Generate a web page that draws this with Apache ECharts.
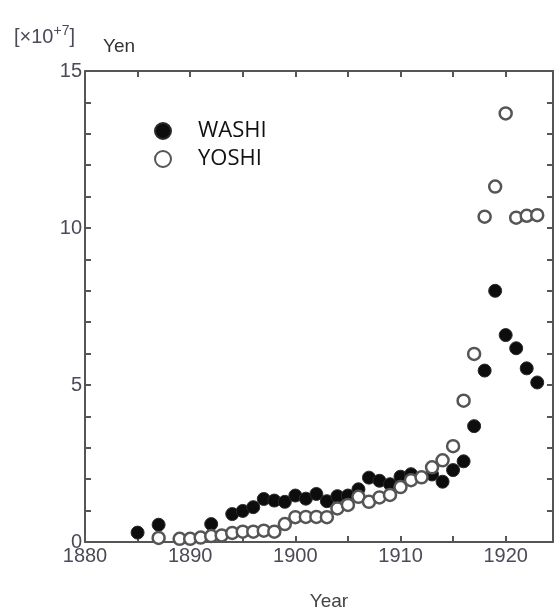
<!DOCTYPE html>
<html>
<head>
<meta charset="utf-8">
<script src="https://cdn.jsdelivr.net/npm/echarts@6/dist/echarts.min.js"></script>
<style>
html,body{margin:0;padding:0;background:#fff;}
#chart{width:560px;height:610px;}
</style>
</head>
<body>
<div id="chart"></div>
<script>
// Data (values in units of 10^7 Yen)
var washiYears = [1885,1887,1892,1894,1895,1896,1897,1898,1899,1900,1901,1902,1903,1904,1905,1906,1907,1908,1909,1910,1911,1913,1914,1915,1916,1917,1918,1919,1920,1921,1922,1923];
var washiValues = [0.30,0.55,0.57,0.89,0.99,1.11,1.37,1.32,1.28,1.48,1.38,1.53,1.30,1.46,1.48,1.68,2.05,1.95,1.84,2.08,2.16,2.15,1.92,2.29,2.57,3.69,5.46,8.00,6.59,6.17,5.53,5.08];
var yoshiYears = [1887,1889,1890,1891,1892,1893,1894,1895,1896,1897,1898,1899,1900,1901,1902,1903,1904,1905,1906,1907,1908,1909,1910,1911,1912,1913,1914,1915,1916,1917,1918,1919,1920,1921,1922,1923];
var yoshiValues = [0.13,0.10,0.10,0.14,0.19,0.21,0.29,0.33,0.33,0.36,0.33,0.57,0.79,0.80,0.80,0.79,1.07,1.18,1.44,1.28,1.42,1.50,1.75,1.97,2.06,2.38,2.60,3.05,4.50,5.99,10.36,11.32,13.65,10.33,10.39,10.41];
var seriesNames = ['WASHI','YOSHI'];
var xTickLabels = [1880,1890,1900,1910,1920];
var yTickLabels = [0,5,10,15];

function pairs(xs, vs){ return xs.map(function(x,i){ return [x, vs[i]]; }); }

var axisColor = '#555';
var labelColor = '#4a4a58';
var baseFont = 'Liberation Sans';

function xAx(pos, showLabel){
  return {
    type:'value', position:pos, min:1880, max:1924.5, interval:5,
    axisLine:{show:true, onZero:false, lineStyle:{color:axisColor, width:2}},
    axisTick:{show:true, inside:true, length:6, lineStyle:{color:axisColor, width:2}},
    axisLabel:{show:showLabel, margin:4, fontSize:20, color:labelColor, fontFamily:baseFont,
      formatter:function(v){ return xTickLabels.indexOf(v) >= 0 ? String(v) : ''; }},
    splitLine:{show:false}
  };
}
function yAx(pos, showLabel){
  return {
    type:'value', position:pos, min:0, max:15, interval:1,
    axisLine:{show:true, onZero:false, lineStyle:{color:axisColor, width:2}},
    axisTick:{show:true, inside:true, length:6, lineStyle:{color:axisColor, width:2}},
    axisLabel:{show:showLabel, margin:3, fontSize:20, color:labelColor, fontFamily:baseFont,
      formatter:function(v){ return yTickLabels.indexOf(v) >= 0 ? String(v) : ''; }},
    splitLine:{show:false}
  };
}

var xBottom = xAx('bottom', true);
xBottom.name = 'Year';
xBottom.nameLocation = 'middle';
xBottom.nameGap = 50;
xBottom.nameTextStyle = {fontSize:19, color:'#444', fontFamily:baseFont, padding:[0,0,0,20]};

var yLeft = yAx('left', true);
yLeft.name = 'Yen';
yLeft.nameLocation = 'end';
yLeft.nameGap = 15;
yLeft.nameTextStyle = {fontSize:19, color:'#333', fontFamily:baseFont, align:'left', padding:[0,0,0,18]};

var chart = echarts.init(document.getElementById('chart'), null, {renderer:'canvas'});
chart.setOption({
  animation:false,
  backgroundColor:'#fff',
  title:{
    text:'[×10{s|+7}]', left:9, top:19,
    textStyle:{fontFamily:baseFont, fontSize:20, fontWeight:'normal', color:labelColor, lineHeight:26,
      rich:{s:{fontSize:14, fontFamily:baseFont, color:labelColor, verticalAlign:'top', lineHeight:26, padding:[0,0,10,0]}}}
  },
  legend:{
    data:seriesNames, orient:'vertical', left:149, top:115,
    icon:'circle', itemWidth:60, itemHeight:16, itemGap:6,
    textStyle:{fontFamily:'Open Sans', fontSize:22, color:'#111', lineHeight:16}
  },
  grid:{left:85, right:7, top:71, bottom:68, containLabel:false, outerBoundsMode:'none'},
  xAxis:[xBottom, xAx('top', false)],
  yAxis:[yLeft, yAx('right', false)],
  series:[
    {name:seriesNames[0], type:'scatter', xAxisIndex:0, yAxisIndex:0, symbol:'circle', symbolSize:13,
     itemStyle:{color:'#0d0d0d', borderColor:'#2a2a2a', borderWidth:1, opacity:1},
     data:pairs(washiYears, washiValues)},
    {name:seriesNames[1], type:'scatter', xAxisIndex:0, yAxisIndex:0, symbol:'circle', symbolSize:12,
     itemStyle:{color:'#fff', borderColor:'#555', borderWidth:2.5, opacity:1},
     data:pairs(yoshiYears, yoshiValues)}
  ]
});
</script>
</body>
</html>
